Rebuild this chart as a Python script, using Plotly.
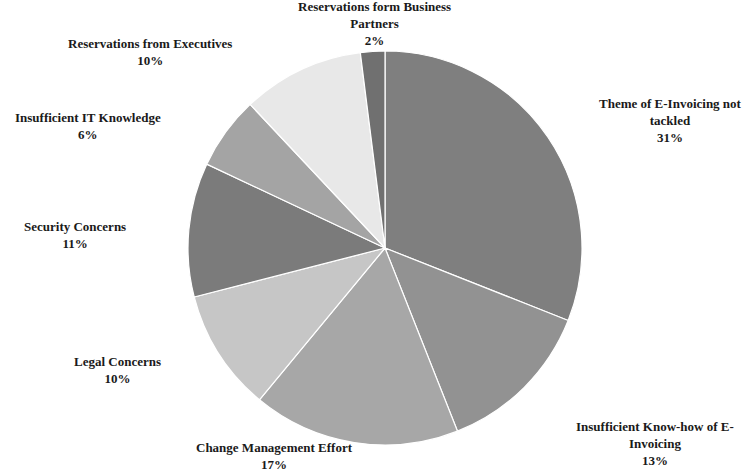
import plotly.graph_objects as go

labels = [
    "Theme of E-Invoicing not tackled",
    "Insufficient Know-how of E-Invoicing",
    "Change Management Effort",
    "Legal Concerns",
    "Security Concerns",
    "Insufficient IT Knowledge",
    "Reservations from Executives",
    "Reservations form Business Partners",
]
display_labels = [
    "Theme of E-Invoicing not<br>tackled",
    "Insufficient Know-how of E-<br>Invoicing",
    "Change Management Effort",
    "Legal Concerns",
    "Security Concerns",
    "Insufficient IT Knowledge",
    "Reservations from Executives",
    "Reservations form Business<br>Partners",
]
values = [31, 13, 17, 10, 11, 6, 10, 2]
colors = ["#7f7f7f", "#929292", "#a7a7a7", "#c6c6c6", "#7b7b7b", "#a4a4a4", "#e8e8e8", "#707070"]

# label centre positions (paper fraction), layout only
label_pos = [
    (0.893, 0.745),
    (0.872, 0.065),
    (0.366, 0.038),
    (0.156, 0.22),
    (0.100, 0.505),
    (0.117, 0.735),
    (0.200, 0.89),
    (0.499, 0.95),
]

W, H = 751, 474
cx, cy, d = 385, 248, 394

fig = go.Figure(go.Pie(
    labels=labels,
    values=values,
    sort=False,
    direction="clockwise",
    rotation=0,
    marker=dict(colors=colors, line=dict(color="#ffffff", width=1.2)),
    textinfo="none",
    hoverinfo="label+percent",
    showlegend=False,
    domain=dict(x=[(cx - d / 2) / W, (cx + d / 2) / W],
                y=[(H - cy - d / 2) / H, (H - cy + d / 2) / H]),
))

annotations = []
for lab, v, (x, y) in zip(display_labels, values, label_pos):
    annotations.append(dict(
        x=x, y=y, xref="paper", yref="paper",
        text=f"<b>{lab}<br>{v}%</b>",
        showarrow=False, xanchor="center", yanchor="middle",
        align="center",
        font=dict(family="Liberation Serif, Times New Roman, serif", size=13, color="#1a1a1a"),
    ))

fig.update_layout(
    width=W, height=H,
    margin=dict(l=0, r=0, t=0, b=0),
    paper_bgcolor="#ffffff",
    plot_bgcolor="#ffffff",
    annotations=annotations,
)

fig.write_html("out.html")
